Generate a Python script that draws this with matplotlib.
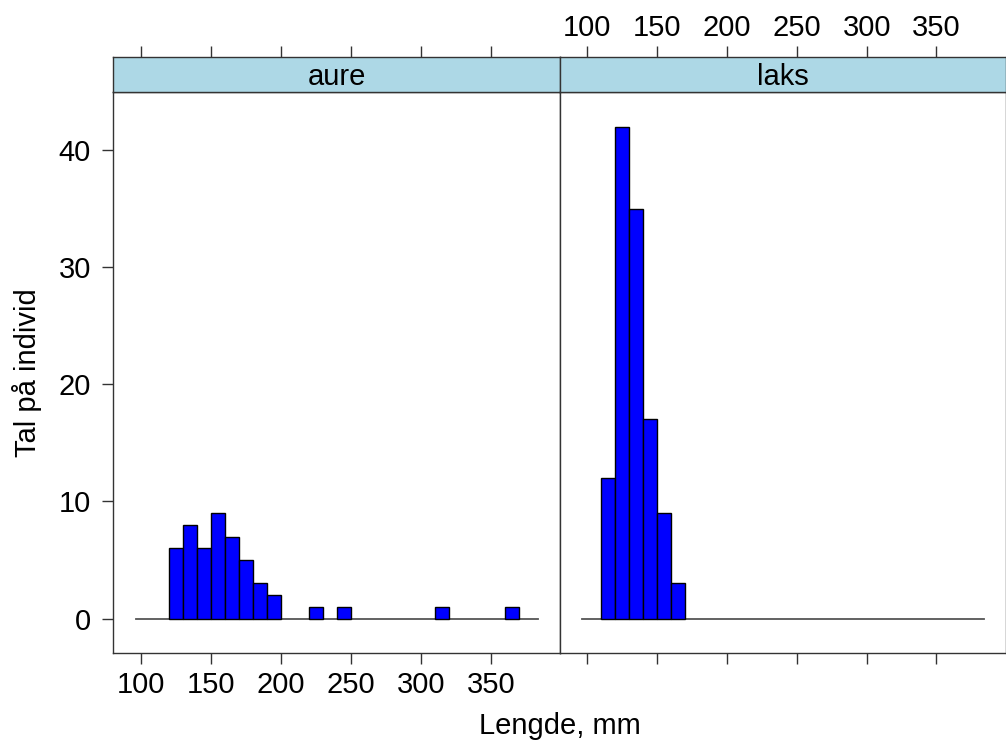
import matplotlib
matplotlib.use("Agg")
import matplotlib.pyplot as plt

# histogram data, 10 mm bins (left edge of each bin)
aure_bins = [120, 130, 140, 150, 160, 170, 180, 190, 220, 240, 310, 360]
aure_counts = [6, 8, 6, 9, 7, 5, 3, 2, 1, 1, 1, 1]
laks_bins = [110, 120, 130, 140, 150, 160]
laks_counts = [12, 42, 35, 17, 9, 3]
bin_width = 10

panel_names = ["aure", "laks"]
x_ticks = [100, 150, 200, 250, 300, 350]
y_ticks = [0, 10, 20, 30, 40]
x_lim = (80.5, 399.4)
y_lim = (-2.94, 44.94)
base_range = (96.5, 383.8)

W, H = 1006, 745
fig = plt.figure(figsize=(W / 100, H / 100), dpi=100)
plt.rcParams["font.family"] = ["Liberation Sans", "DejaVu Sans"]

FS = 21
TICK_COL = "#333333"


def px_axes(x0, y0, x1, y1):
    # pixel box (top-left origin) -> figure axes
    return fig.add_axes([x0 / W, 1 - y1 / H, (x1 - x0) / W, (y1 - y0) / H])


panel_x = [(113.3, 560.0), (560.0, 1005.5)]
panel_top, panel_bot = 92.3, 653.0
strip_top = 57.3

data = [(aure_bins, aure_counts), (laks_bins, laks_counts)]

for i, ((x0, x1), name, (bins, counts)) in enumerate(zip(panel_x, panel_names, data)):
    ax = px_axes(x0, panel_top, x1, panel_bot)
    ax.bar(bins, counts, width=bin_width, align="edge",
           color="#0000FF", edgecolor="black", linewidth=1.0, zorder=3)
    ax.plot(base_range, [0, 0], color="#555555", linewidth=1.3, zorder=2)
    ax.set_xlim(*x_lim)
    ax.set_ylim(*y_lim)
    for sp in ax.spines.values():
        sp.set_color(TICK_COL)
        sp.set_linewidth(1.0)

    ax.set_xticks(x_ticks)
    ax.tick_params(axis="x", direction="out", length=8, width=1.0,
                   color=TICK_COL, labelsize=FS, pad=5,
                   labelbottom=(i == 0), top=False)
    if i == 0:
        ax.set_yticks(y_ticks)
        ax.tick_params(axis="y", direction="out", length=8, width=1.0,
                       color=TICK_COL, labelsize=FS, pad=8)
    else:
        ax.set_yticks([])

    # strip with panel name, top axis ticks drawn above it
    sax = px_axes(x0, strip_top, x1, panel_top)
    sax.set_facecolor("#ADD8E6")
    sax.set_xlim(*x_lim)
    sax.set_ylim(0, 1)
    sax.set_yticks([])
    sax.set_xticks(x_ticks)
    sax.tick_params(axis="x", direction="out", length=8, width=1.0,
                    color=TICK_COL, labelsize=FS, pad=3,
                    bottom=False, labelbottom=False,
                    top=True, labeltop=(i == 1))
    for sp in sax.spines.values():
        sp.set_color(TICK_COL)
        sp.set_linewidth(1.0)
    sax.text(0.5, 0.45, name, transform=sax.transAxes,
             ha="center", va="center", fontsize=FS)

fig.text((113.3 + 1005.5) / 2 / W, 1 - 734 / H, "Lengde, mm",
         ha="center", va="baseline", fontsize=FS)
fig.text(27 / W, 1 - (panel_top + panel_bot) / 2 / H, "Tal på individ",
         ha="center", va="center", rotation=90, fontsize=FS)

fig.savefig("out.png", dpi=100)
